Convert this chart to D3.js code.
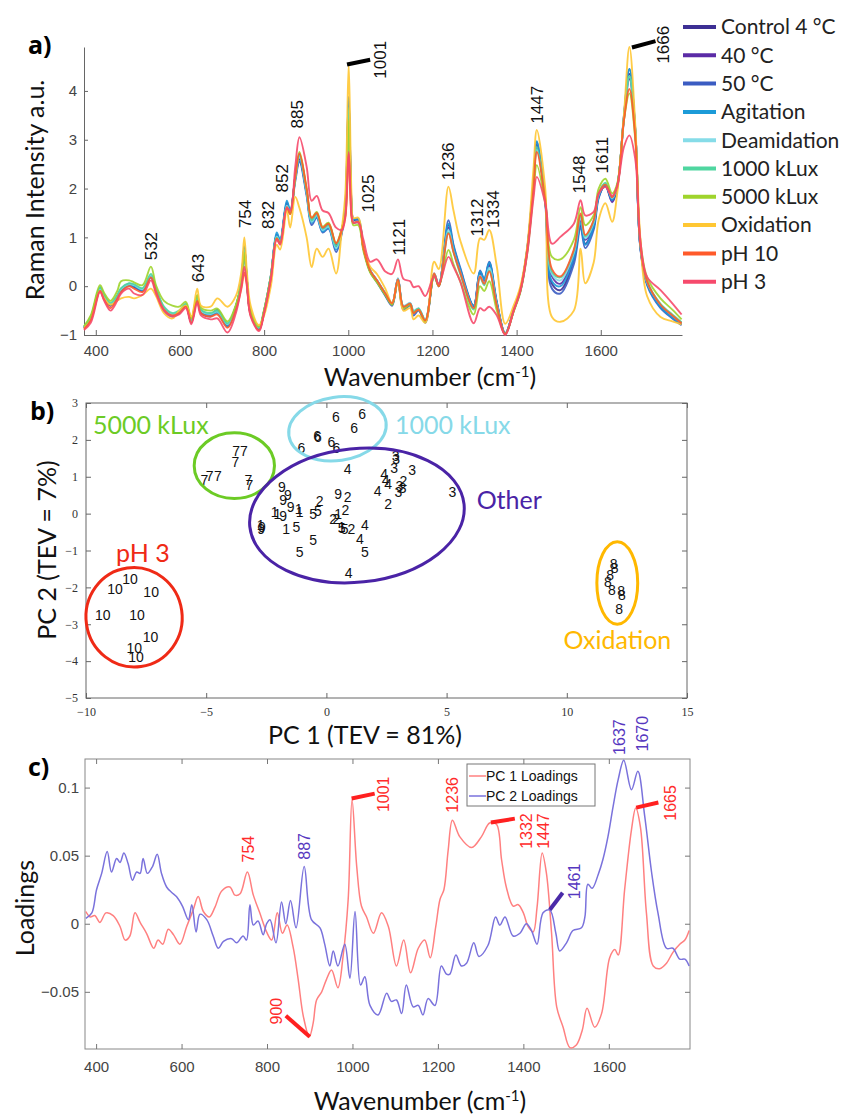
<!DOCTYPE html>
<html>
<head>
<meta charset="utf-8">
<script src="https://cdnjs.cloudflare.com/ajax/libs/d3/7.8.5/d3.min.js"></script>
<style>
body { margin: 0; background: #fff; }
svg { font-family: Lato, "Open Sans", sans-serif; }
.tick text { font-family: "Liberation Sans", Arial, sans-serif; }
</style>
</head>
<body>
<svg id="fig" width="853" height="1115"></svg>
<script>
// ---------------- panel a data ----------------
var wavenumbers = [372,388,410,420,435,451,460,479,491,511,
  531,543,562,582,598,614,627,641,650,673,
  689,713,733,746,753,759,768,788,800,816,
  830,838,854,862,874,884,901,913,925,939,
  953,971,985,993,1001,1008,1012,1024,1036,1052,
  1068,1088,1104,1118,1131,1147,1155,1167,1183,1204,
  1215,1238,1250,1266,1298,1313,1323,1335,1353,1373,
  1393,1409,1425,1440,1448,1468,1484,1504,1536,1552,
  1563,1583,1595,1611,1627,1639,1655,1668,1682,1694,
  1710,1742,1770,1792];

var seriesNames = ['Control 4 °C','40 °C','50 °C','Agitation','Deamidation','1000 kLux','5000 kLux','Oxidation','pH 10','pH 3'];
var seriesColors = ['#3d2f94','#5b2ba6','#3b5cc2','#1c9bd8','#86dce8','#4fd6a0','#9fd42c','#ffc733','#ff5a2a','#f64a6c'];

var control4 = [-0.85,-0.66,-0.05,-0.22,-0.39,-0.22,-0.08,0.02,-0.02,-0.08,
  0.19,-0.08,-0.46,-0.59,-0.52,-0.39,-0.73,-0.22,-0.52,-0.59,
  -0.52,-0.80,-0.42,0.10,0.77,0.15,-0.56,-0.87,-0.52,0.19,
  1.04,0.91,1.69,1.52,2.20,2.60,1.90,1.31,1.45,1.15,
  1.25,0.80,1.15,1.60,3.80,1.60,1.35,1.35,0.80,0.33,
  0.12,-0.15,-0.35,0.16,-0.42,-0.35,-0.52,-0.46,-0.70,0.26,
  0.02,1.25,0.80,0.33,-0.42,0.29,0.12,0.46,-0.35,-0.97,
  -0.49,-0.08,0.74,2.10,2.90,1.76,0.05,-0.08,0.55,1.25,
  0.87,1.21,1.83,2.07,1.75,2.03,3.46,4.35,3.19,0.80,
  0.05,-0.42,-0.63,-0.78];
var temp40 = [-0.86,-0.68,-0.08,-0.24,-0.40,-0.20,-0.06,0.04,0.00,-0.10,
  0.20,-0.10,-0.48,-0.60,-0.55,-0.40,-0.75,-0.25,-0.55,-0.62,
  -0.50,-0.82,-0.45,0.05,0.70,0.10,-0.58,-0.88,-0.50,0.22,
  1.05,0.92,1.70,1.50,2.25,2.70,1.95,1.35,1.48,1.18,
  1.28,0.85,1.18,1.55,3.70,1.55,1.30,1.32,0.78,0.30,
  0.10,-0.18,-0.38,0.14,-0.45,-0.38,-0.55,-0.48,-0.72,0.24,
  0.00,1.20,0.78,0.30,-0.40,0.25,0.10,0.42,-0.38,-0.98,
  -0.50,-0.10,0.72,2.05,2.85,1.78,0.20,0.05,0.65,1.35,
  0.95,1.28,1.85,2.05,1.72,2.00,3.40,4.25,3.15,0.82,
  0.08,-0.40,-0.62,-0.76];
var temp50 = [-0.84,-0.65,-0.04,-0.20,-0.38,-0.24,-0.10,0.05,0.02,-0.06,
  0.18,-0.06,-0.45,-0.60,-0.54,-0.38,-0.72,-0.20,-0.50,-0.58,
  -0.48,-0.78,-0.40,0.12,0.80,0.15,-0.55,-0.86,-0.52,0.18,
  1.06,0.92,1.72,1.50,2.15,2.55,1.85,1.25,1.40,1.10,
  1.18,0.70,1.10,1.65,3.88,1.65,1.38,1.35,0.78,0.30,
  0.08,-0.20,-0.40,0.12,-0.48,-0.40,-0.60,-0.50,-0.75,0.22,
  0.00,1.35,0.85,0.38,-0.40,0.32,0.15,0.50,-0.32,-0.96,
  -0.48,-0.06,0.76,2.15,2.95,1.70,-0.05,-0.15,0.45,1.20,
  0.78,1.15,1.80,2.08,1.78,2.05,3.50,4.45,3.22,0.78,
  0.02,-0.45,-0.66,-0.80];
var agitation = [-0.85,-0.66,-0.02,-0.20,-0.38,-0.22,-0.08,0.02,0.00,-0.08,
  0.19,-0.08,-0.50,-0.62,-0.56,-0.40,-0.74,-0.24,-0.53,-0.60,
  -0.55,-0.82,-0.42,0.12,0.82,0.18,-0.56,-0.88,-0.50,0.20,
  1.10,0.95,1.75,1.55,2.22,2.65,1.92,1.30,1.42,1.12,
  1.20,0.75,1.12,1.62,3.85,1.62,1.38,1.38,0.80,0.32,
  0.12,-0.16,-0.36,0.15,-0.44,-0.36,-0.54,-0.48,-0.72,0.25,
  0.02,1.28,0.82,0.35,-0.40,0.30,0.14,0.48,-0.34,-0.97,
  -0.48,-0.07,0.75,2.12,2.97,1.78,0.10,0.00,0.58,1.30,
  0.85,1.22,1.84,2.06,1.76,2.04,3.48,4.45,3.20,0.80,
  0.05,-0.43,-0.64,-0.78];
var deamidation = [-0.84,-0.64,-0.06,-0.22,-0.36,-0.20,-0.06,0.04,0.02,-0.06,
  0.22,-0.05,-0.45,-0.58,-0.52,-0.38,-0.72,-0.22,-0.50,-0.57,
  -0.52,-0.78,-0.42,0.08,0.72,0.12,-0.55,-0.85,-0.52,0.20,
  1.02,0.90,1.65,1.50,2.20,2.65,1.92,1.32,1.45,1.15,
  1.22,0.78,1.15,1.50,3.60,1.50,1.32,1.32,0.78,0.32,
  0.12,-0.14,-0.34,0.16,-0.40,-0.34,-0.50,-0.45,-0.68,0.26,
  0.04,1.15,0.72,0.28,-0.45,0.22,0.06,0.38,-0.38,-0.98,
  -0.50,-0.08,0.72,2.05,2.80,1.80,0.25,0.12,0.68,1.40,
  0.98,1.30,1.88,2.10,1.80,2.05,3.45,4.30,3.18,0.84,
  0.08,-0.38,-0.60,-0.75];
var klux1000 = [-0.83,-0.63,-0.02,-0.18,-0.34,-0.18,-0.04,0.06,0.04,-0.04,
  0.25,-0.03,-0.42,-0.55,-0.50,-0.36,-0.70,-0.20,-0.48,-0.55,
  -0.50,-0.76,-0.40,0.10,0.75,0.14,-0.53,-0.84,-0.50,0.22,
  1.00,0.88,1.62,1.48,2.22,2.68,1.95,1.35,1.48,1.18,
  1.25,0.82,1.18,1.55,3.65,1.55,1.30,1.30,0.76,0.30,
  0.10,-0.16,-0.36,0.14,-0.42,-0.36,-0.52,-0.46,-0.70,0.24,
  0.02,1.10,0.70,0.25,-0.48,0.18,0.02,0.32,-0.40,-0.98,
  -0.50,-0.10,0.70,2.02,2.85,1.82,0.30,0.18,0.72,1.45,
  1.02,1.34,1.90,2.12,1.82,2.06,3.45,4.30,3.18,0.86,
  0.10,-0.36,-0.58,-0.74];
var klux5000 = [-0.82,-0.60,0.02,-0.14,-0.30,-0.10,0.10,0.12,0.08,0.02,
  0.40,0.02,-0.30,-0.40,-0.42,-0.32,-0.66,-0.18,-0.44,-0.50,
  -0.46,-0.72,-0.38,0.08,0.68,0.12,-0.50,-0.82,-0.48,0.20,
  0.98,0.86,1.60,1.48,2.25,2.75,2.00,1.40,1.52,1.22,
  1.30,0.88,1.20,1.45,3.40,1.45,1.25,1.25,0.72,0.28,
  0.08,-0.18,-0.38,0.10,-0.45,-0.38,-0.55,-0.48,-0.72,0.20,
  0.00,0.74,0.45,0.10,-0.58,0.00,-0.10,0.10,-0.50,-0.98,
  -0.52,-0.12,0.66,1.90,2.48,1.70,0.60,0.55,0.95,1.62,
  1.25,1.45,2.00,2.20,1.90,2.10,3.40,3.95,3.00,0.95,
  0.18,-0.25,-0.48,-0.68];
var oxidation = [-0.86,-0.70,-0.10,-0.25,-0.38,-0.30,-0.25,-0.22,-0.25,-0.18,
  -0.05,-0.20,-0.55,-0.66,-0.50,-0.40,-0.62,-0.05,-0.40,-0.42,
  -0.25,-0.42,-0.20,0.30,1.00,0.30,-0.40,-0.80,-0.60,0.00,
  0.85,0.75,1.55,1.20,1.83,1.60,1.00,0.39,0.77,0.60,
  0.77,0.26,1.20,1.90,4.55,1.80,1.40,1.40,0.80,0.40,
  0.25,-0.05,-0.35,0.10,-0.50,-0.45,-0.68,-0.60,-0.75,0.50,
  0.35,2.04,1.55,0.94,0.26,0.98,0.95,1.15,0.40,-0.77,
  -0.40,0.00,0.80,2.40,3.20,2.00,-0.63,-0.73,-0.50,0.77,
  0.06,0.48,1.36,1.70,1.32,1.90,3.50,4.90,3.30,0.98,
  -0.20,-0.63,-0.72,-0.78];
var ph10 = [-0.88,-0.70,-0.10,-0.28,-0.45,-0.25,-0.12,0.00,-0.05,-0.12,
  0.18,-0.10,-0.48,-0.60,-0.55,-0.42,-0.75,-0.30,-0.55,-0.62,
  -0.58,-0.85,-0.48,-0.05,0.28,0.00,-0.60,-0.90,-0.55,0.15,
  0.98,0.88,1.62,1.48,2.25,2.72,2.00,1.40,1.50,1.20,
  1.28,0.88,1.15,1.40,2.71,1.40,1.30,1.32,0.78,0.32,
  0.12,-0.15,-0.35,0.14,-0.42,-0.36,-0.55,-0.48,-0.70,0.26,
  0.00,1.08,0.70,0.28,-0.45,0.20,0.05,0.30,-0.40,-0.98,
  -0.50,-0.08,0.72,2.00,2.75,1.75,0.35,0.20,0.75,1.49,
  1.05,1.35,1.90,2.08,1.82,2.05,3.40,4.04,3.05,0.85,
  0.10,-0.38,-0.60,-0.76];
var ph3 = [-0.90,-0.75,-0.12,-0.30,-0.50,-0.30,-0.15,-0.05,-0.15,-0.18,
  0.12,-0.15,-0.50,-0.62,-0.58,-0.45,-0.78,-0.35,-0.60,-0.68,
  -0.66,-0.95,-0.55,0.00,0.40,0.05,-0.62,-0.92,-0.55,0.15,
  0.95,0.85,1.60,1.55,2.45,3.05,2.45,1.75,1.85,1.55,
  1.50,1.20,1.15,1.45,2.75,1.45,1.30,1.30,0.95,0.50,
  0.55,0.30,0.25,0.55,0.15,0.10,-0.02,0.00,-0.20,0.20,
  0.05,0.60,0.40,0.10,-0.76,-0.45,-0.50,-0.42,-0.60,-1.00,
  -0.50,-0.10,0.65,1.80,2.24,1.70,0.87,1.01,1.28,1.76,
  1.45,1.52,1.90,2.03,1.85,2.05,2.85,3.09,2.60,0.95,
  0.19,-0.08,-0.35,-0.58];
var spectra = [control4, temp40, temp50, agitation, deamidation, klux1000, klux5000, oxidation, ph10, ph3];

// peak labels (text, label wavenumber position, label bottom in a.u.)
var peakText = ['532','643','754','832','852','885','1001','1025','1121','1236','1312','1334','1447','1548','1611','1666'];
var peakLabelX = [532,643,754,810,843,879,1076,1047,1121,1236,1307,1345,1449,1548,1604,1749];
var peakLabelY = [0.53,0.08,1.19,1.17,1.92,3.23,4.25,1.51,0.63,2.17,1.02,1.19,3.33,1.90,2.31,4.56];
var leadersA = [[997,4.54,1052,4.64],[1674,4.89,1730,5.02]];

// ---------------- panel b data ----------------
var scoreLabel = ['1','1','1','1','1','1','1','1',
  '2','2','2','2','2','2','2','2',
  '3','3','3','3','3','3','3','3',
  '4','4','4','4','4','4','4','4',
  '5','5','5','5','5','5','5','5',
  '6','6','6','6','6','6','6','6',
  '7','7','7','7','7','7','7','7',
  '8','8','8','8','8','8','8','8',
  '9','9','9','9','9','9','9','9',
  '10','10','10','10','10','10','10','10'];
var scorePC1 = [-2.15,-2.04,-1.15,-1.11,-1.67,0.63,-2.74,0.49,
  3.20,2.57,0.88,0.79,-0.28,0.28,0.42,1.04,
  2.88,2.90,2.82,3.57,5.24,3.04,3.17,3.00,
  0.88,2.40,2.46,2.57,2.13,1.60,1.39,0.93,
  -0.55,-0.35,-1.25,-0.55,-1.11,1.60,0.63,0.76,
  0.39,1.49,1.15,-0.38,-0.35,0.21,0.42,-1.04,
  -3.75,-3.43,-3.79,-4.86,-4.51,-5.07,-3.24,-3.20,
  11.95,11.99,11.80,11.71,11.88,12.26,12.29,12.18,
  0.49,-1.85,-1.60,-1.80,-1.49,-1.80,-2.71,-2.68,
  -8.79,-8.17,-7.29,-9.30,-7.88,-7.32,-7.99,-7.92];
var scorePC2 = [0.04,-0.01,0.13,0.04,-0.41,-0.37,-0.32,-0.01,
  0.87,0.26,0.44,0.10,0.35,-0.14,-0.14,-0.41,
  1.57,1.49,1.24,1.19,0.58,0.76,0.68,0.59,
  1.22,1.07,0.91,0.80,0.62,-0.30,-0.68,-1.61,
  -0.01,0.08,-0.37,-0.73,-1.05,-1.05,-0.39,-0.41,
  2.62,2.71,2.33,2.11,2.08,1.93,1.78,1.79,
  1.70,1.70,1.39,1.03,1.03,0.91,0.91,0.78,
  -1.36,-1.49,-1.68,-1.86,-2.08,-2.10,-2.22,-2.58,
  0.53,0.73,0.49,0.37,0.19,-0.08,-0.41,-0.37,
  -2.04,-1.78,-2.14,-2.76,-2.76,-3.34,-3.66,-3.90];

// cluster ellipses: centre, radii (PC units), tilt in degrees
var clusterName = ['5000 kLux','1000 kLux','Other','pH 3','Oxidation'];
var clusterColor = ['#6ccb25','#86d9e8','#4a23a6','#ef2a16','#ffb800'];
var clusterCx = [-3.83,0.46,1.27,-8.0,12.10];
var clusterCy = [1.30,2.30,-0.05,-2.81,-1.88];
var clusterRx = [1.67,2.04,4.48,2.0,0.85];
var clusterRy = [0.89,0.86,1.81,1.35,1.12];
var clusterTilt = [0,-8,-6,-8,0];
var clusterLabelX = [-9.71,2.85,6.25,-8.75,9.86];
var clusterLabelY = [2.16,2.16,0.13,-1.32,-3.66];

// ---------------- panel c data ----------------
var pc1Wn = [376,386,397,409,423,440,456,468,479,491,503,518,535,545,556,569,581,596,612,627,
  639,651,665,678,694,713,725,737,754,768,783,799,811,824,836,847,861,873,885,899,
  908,916,928,939,951,966,978,990,999,1010,1021,1033,1049,1068,1084,1103,1120,1136,1154,1169,
  1182,1195,1205,1214,1224,1234,1251,1279,1302,1321,1337,1349,1360,1376,1388,1400,1411,1423,1432,1444,
  1454,1466,1478,1493,1509,1524,1538,1549,1567,1583,1602,1614,1622,1637,1653,1663,1674,1688,1704,1719,
  1735,1750,1766,1778,1788];
var pc1Load = [0.009,0.005,0.006,0.001,0.008,0.006,-0.002,-0.012,-0.009,0.008,0.001,-0.007,-0.018,-0.012,-0.015,-0.004,-0.008,-0.015,-0.002,0.010,
  0.020,0.009,0.005,0.012,0.024,0.027,0.021,0.022,0.038,0.021,0.008,-0.006,-0.012,0.008,-0.007,-0.001,-0.017,-0.041,-0.068,-0.083,
  -0.073,-0.056,-0.050,-0.041,-0.034,-0.047,-0.024,0.018,0.091,0.042,0.013,0.005,-0.007,0.008,-0.002,-0.031,-0.012,-0.036,-0.018,-0.012,
  -0.025,-0.002,0.018,0.025,0.054,0.076,0.064,0.056,0.064,0.074,0.073,0.047,0.027,0.013,0.014,0.008,-0.002,-0.006,0.012,0.052,
  0.037,-0.007,-0.061,-0.076,-0.091,-0.089,-0.078,-0.062,-0.076,-0.066,-0.025,-0.019,-0.023,0.025,0.069,0.085,0.071,0.008,-0.031,-0.033,
  -0.029,-0.021,-0.015,-0.012,-0.005];
var pc2Wn = [376,390,401,413,426,436,448,456,465,475,485,495,503,510,520,532,543,553,565,577,
  588,602,616,624,634,643,659,674,686,698,717,729,744,752,760,768,779,791,799,807,
  821,834,844,855,868,887,904,924,935,947,955,966,982,994,1006,1019,1029,1041,1060,1080,
  1091,1103,1115,1126,1142,1154,1165,1177,1193,1208,1220,1228,1242,1255,1267,1284,1296,1317,1335,1345,
  1357,1376,1392,1407,1419,1432,1446,1462,1476,1485,1501,1516,1536,1544,1551,1561,1575,1586,1598,1610,
  1622,1635,1653,1668,1684,1700,1715,1735,1750,1766,1778,1788];
var pc2Load = [0.004,0.008,0.025,0.037,0.053,0.038,0.048,0.045,0.052,0.044,0.032,0.038,0.037,0.048,0.037,0.042,0.051,0.037,0.027,0.023,
  0.020,0.013,0.003,0.014,-0.006,0.007,0.003,-0.009,-0.018,-0.013,-0.011,-0.014,-0.009,-0.012,0.014,-0.001,0.002,-0.008,0.000,0.003,
  -0.014,0.016,0.000,0.017,-0.003,0.042,0.003,-0.003,-0.015,-0.031,-0.020,-0.031,-0.015,-0.040,0.009,-0.045,-0.039,-0.060,-0.067,-0.051,
  -0.057,-0.056,-0.066,-0.045,-0.061,-0.060,-0.067,-0.055,-0.060,-0.031,-0.037,-0.037,-0.023,-0.031,-0.029,-0.014,-0.024,-0.016,0.005,-0.001,
  0.005,-0.009,-0.007,0.000,-0.005,-0.015,0.008,0.010,-0.007,-0.020,-0.014,-0.005,-0.003,0.005,0.029,0.026,0.036,0.047,0.064,0.086,
  0.106,0.120,0.0985,0.112,0.079,0.038,0.008,-0.018,-0.018,-0.026,-0.026,-0.031];

// loading annotations: text, colour index (0 = PC1 red, 1 = PC2 purple), position
var loadText = ['754','887','900','1001','1236','1332','1447','1461','1665','1637','1670'];
var loadSeries = [0,1,0,0,0,0,0,1,0,1,1];
var loadLabelX = [756,888,821,1073,1234,1408,1448,1520,1745,1625,1679];
var loadLabelY = [0.045,0.047,-0.074,0.082,0.0816,0.055,0.055,0.018,0.0757,0.124,0.1265];
var leadersC = [[844,-0.0676,900,-0.083,0],[998,0.092,1052,0.0956,0],[1324,0.0743,1380,0.0772,0],
  [1462,0.0103,1492,0.0228,1],[1664,0.0853,1716,0.089,0]];
var loadNames = ['PC 1 Loadings','PC 2 Loadings'];
var loadColors = ['#ff8080','#7a72dc'];
var loadTextColors = ['#ff2b2b','#5637c0'];

var svg = d3.select('#fig');

// helper for the little rotated numbers
function vText(g, x, y, txt, color, size){
    g.append('text')
        .attr('transform', 'translate(' + x + ',' + y + ') rotate(-90)')
        .attr('dy', '0.35em')
        .style('font-family', '"Liberation Sans", Arial, sans-serif')
        .style('font-size', size + 'px')
        .style('fill', color)
        .text(txt);
}

function wavenumberLabel(g, x, y){
    var t = g.append('text')
        .attr('x', x).attr('y', y)
        .attr('text-anchor', 'middle')
        .style('font-size', '25px')
        .style('fill', '#111');
    t.append('tspan').text('Wavenumber (cm');
    t.append('tspan').attr('dy', -9).style('font-size', '15px').text('-1');
    t.append('tspan').attr('dy', 9).text(')');
}

function panelTag(x, y, txt){
    svg.append('text').attr('x', x).attr('y', y)
        .style('font-size', '25px').style('font-weight', 'bold')
        .style('font-family', '"Open Sans", sans-serif')
        .text(txt);
}

// ================= panel a =================
var xA = d3.scaleLinear().domain([372, 1793]).range([84, 682]);
var yA = d3.scaleLinear().domain([-1, 4.9]).range([335, 47]);
var gA = svg.append('g');

gA.append('g')
    .attr('transform', 'translate(0,335)')
    .call(d3.axisBottom(xA).tickValues([400,600,800,1000,1200,1400,1600]).tickFormat(d3.format('d')).tickSizeInner(-5).tickSizeOuter(0).tickPadding(10))
    .call(function(g){ g.selectAll('text').style('font-size','15px').style('fill','#444'); g.selectAll('line,path').style('stroke','#666'); });
gA.append('g')
    .attr('transform', 'translate(84,0)')
    .call(d3.axisLeft(yA).tickValues([-1,0,1,2,3,4]).tickFormat(d3.format('d')).tickSizeInner(-4).tickSizeOuter(0).tickPadding(7))
    .call(function(g){ g.selectAll('text').style('font-size','15px').style('fill','#444'); g.selectAll('line,path').style('stroke','#666'); });

var lineA = d3.line()
    .curve(d3.curveCatmullRom.alpha(0.5))
    .x(function(d, i){ return xA(wavenumbers[i]); })
    .y(function(d){ return yA(d); });

spectra.forEach(function(s, i){
    gA.append('path')
        .datum(s)
        .attr('fill', 'none')
        .attr('stroke', seriesColors[i])
        .attr('stroke-width', 1.9)
        .attr('stroke-opacity', 0.9)
        .attr('stroke-linejoin', 'round')
        .attr('d', lineA);
});

peakText.forEach(function(t, i){
    vText(gA, xA(peakLabelX[i]), yA(peakLabelY[i]), t, '#111', 17);
});
leadersA.forEach(function(l){
    gA.append('line')
        .attr('x1', xA(l[0])).attr('y1', yA(l[1]))
        .attr('x2', xA(l[2])).attr('y2', yA(l[3]))
        .style('stroke', '#000').style('stroke-width', 4);
});

// legend
var legA = gA.append('g');
seriesNames.forEach(function(n, i){
    var yy = 27 + i * 28.3;
    legA.append('line').attr('x1', 683).attr('x2', 716).attr('y1', yy).attr('y2', yy)
        .style('stroke', seriesColors[i]).style('stroke-width', 4);
    legA.append('text').attr('x', 721).attr('y', yy).attr('dy', '0.35em')
        .style('font-size', '21px').style('fill', '#222').text(n);
});

gA.append('text')
    .attr('transform', 'translate(44,190) rotate(-90)')
    .attr('text-anchor', 'middle')
    .style('font-size', '25px').style('fill', '#111')
    .text('Raman Intensity a.u.');
wavenumberLabel(gA, 430, 386);
panelTag(28, 54, 'a)');

// ================= panel b =================
var xB = d3.scaleLinear().domain([-10, 15]).range([86, 687]);
var yB = d3.scaleLinear().domain([-5, 3]).range([698, 403]);
var gB = svg.append('g');

gB.append('rect').attr('x', 86).attr('y', 403).attr('width', 601).attr('height', 295)
    .style('fill', 'none').style('stroke', '#666');
function styleB(g){
    g.select('.domain').remove();
    g.selectAll('line').style('stroke', '#666');
    g.selectAll('text').style('font-family', '"Liberation Serif", serif').style('font-size', '12px').style('fill', '#333');
}
gB.append('g').attr('transform', 'translate(0,698)')
    .call(d3.axisBottom(xB).ticks(5).tickSizeInner(-5).tickSizeOuter(0).tickPadding(9)).call(styleB);
gB.append('g').attr('transform', 'translate(0,403)')
    .call(d3.axisTop(xB).ticks(5).tickSizeInner(-5).tickSizeOuter(0).tickFormat('')).call(styleB);
gB.append('g').attr('transform', 'translate(86,0)')
    .call(d3.axisLeft(yB).ticks(8).tickSizeInner(-5).tickSizeOuter(0).tickPadding(8)).call(styleB);
gB.append('g').attr('transform', 'translate(687,0)')
    .call(d3.axisRight(yB).ticks(8).tickSizeInner(-5).tickSizeOuter(0).tickFormat('')).call(styleB);

scoreLabel.forEach(function(t, i){
    gB.append('text')
        .attr('x', xB(scorePC1[i])).attr('y', yB(scorePC2[i]))
        .attr('dy', '0.35em').attr('text-anchor', 'middle')
        .style('font-family', '"Liberation Sans", Arial, sans-serif')
        .style('font-size', '14px').style('fill', '#111')
        .text(t);
});

clusterName.forEach(function(n, i){
    var cx = xB(clusterCx[i]), cy = yB(clusterCy[i]);
    gB.append('ellipse')
        .attr('cx', cx).attr('cy', cy)
        .attr('rx', xB(clusterCx[i] + clusterRx[i]) - cx)
        .attr('ry', cy - yB(clusterCy[i] + clusterRy[i]))
        .attr('transform', 'rotate(' + clusterTilt[i] + ',' + cx + ',' + cy + ')')
        .style('fill', 'none').style('stroke', clusterColor[i]).style('stroke-width', 3);
    gB.append('text')
        .attr('x', xB(clusterLabelX[i])).attr('y', yB(clusterLabelY[i]))
        .style('font-size', '25px').style('fill', clusterColor[i])
        .text(n);
});

gB.append('text')
    .attr('transform', 'translate(56,550) rotate(-90)')
    .attr('text-anchor', 'middle')
    .style('font-size', '25px').style('fill', '#111')
    .text('PC 2 (TEV = 7%)');
gB.append('text')
    .attr('x', 365).attr('y', 744).attr('text-anchor', 'middle')
    .style('font-size', '25px').style('fill', '#111')
    .text('PC 1 (TEV = 81%)');
panelTag(30, 420, 'b)');

// ================= panel c =================
var xC = d3.scaleLinear().domain([374, 1790]).range([85, 690]);
var yC = d3.scaleLinear().domain([-0.092, 0.121]).range([1049, 759]);
var gC = svg.append('g');

gC.append('rect').attr('x', 85).attr('y', 759).attr('width', 605).attr('height', 290)
    .style('fill', 'none').style('stroke', '#888');
function styleC(g){
    g.select('.domain').remove();
    g.selectAll('line').style('stroke', '#777');
    g.selectAll('text').style('font-size', '15px').style('fill', '#444');
}
var xTicksC = [400,600,800,1000,1200,1400,1600];
var yTicksC = [-0.05,0,0.05,0.1];
gC.append('g').attr('transform', 'translate(0,1049)')
    .call(d3.axisBottom(xC).tickValues(xTicksC).tickFormat(d3.format('d')).tickSizeInner(-5).tickSizeOuter(0).tickPadding(12)).call(styleC);
gC.append('g').attr('transform', 'translate(0,759)')
    .call(d3.axisTop(xC).tickValues(xTicksC).tickSizeInner(-5).tickSizeOuter(0).tickFormat('')).call(styleC);
gC.append('g').attr('transform', 'translate(85,0)')
    .call(d3.axisLeft(yC).tickValues(yTicksC).tickSizeInner(-5).tickSizeOuter(0).tickPadding(6).tickFormat(d3.format('~g'))).call(styleC);
gC.append('g').attr('transform', 'translate(690,0)')
    .call(d3.axisRight(yC).tickValues(yTicksC).tickSizeInner(-5).tickSizeOuter(0).tickFormat('')).call(styleC);

var loadSets = [[pc1Wn, pc1Load], [pc2Wn, pc2Load]];
loadSets.forEach(function(s, k){
    var line = d3.line()
        .curve(d3.curveCatmullRom.alpha(0.5))
        .x(function(d, i){ return xC(s[0][i]); })
        .y(function(d){ return yC(d); });
    gC.append('path')
        .datum(s[1])
        .attr('fill', 'none')
        .attr('stroke', loadColors[k])
        .attr('stroke-width', 1.5)
        .attr('d', line);
});

leadersC.forEach(function(l){
    gC.append('line')
        .attr('x1', xC(l[0])).attr('y1', yC(l[1]))
        .attr('x2', xC(l[2])).attr('y2', yC(l[3]))
        .style('stroke', l[4] == 0 ? '#ff2020' : '#4a2aa8').style('stroke-width', 4);
});
loadText.forEach(function(t, i){
    vText(gC, xC(loadLabelX[i]), yC(loadLabelY[i]), t, loadTextColors[loadSeries[i]], 16);
});

// legend box
var legC = gC.append('g');
legC.append('rect').attr('x', 467).attr('y', 764).attr('width', 128).attr('height', 42)
    .style('fill', '#fff').style('stroke', '#777');
loadNames.forEach(function(n, i){
    var yy = 776 + i * 20;
    legC.append('line').attr('x1', 469).attr('x2', 486).attr('y1', yy).attr('y2', yy)
        .style('stroke', loadColors[i]).style('stroke-width', 1.5);
    legC.append('text').attr('x', 486).attr('y', yy).attr('dy', '0.35em')
        .style('font-family', '"Liberation Sans", Arial, sans-serif')
        .style('font-size', '14px').style('fill', '#111').text(n);
});

gC.append('text')
    .attr('transform', 'translate(34,908) rotate(-90)')
    .attr('text-anchor', 'middle')
    .style('font-size', '25px').style('fill', '#111')
    .text('Loadings');
wavenumberLabel(gC, 420, 1110);
panelTag(28, 776, 'c)');
</script>
</body>
</html>
